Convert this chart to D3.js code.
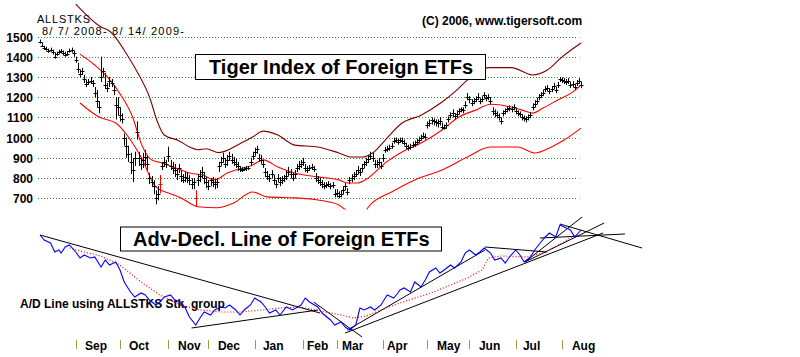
<!DOCTYPE html>
<html><head><meta charset="utf-8">
<script src="https://cdn.jsdelivr.net/npm/d3@7"></script>
<style>body{margin:0;background:#fff}svg{display:block}text{font-family:"Liberation Sans",Arial,sans-serif}</style>
</head><body><svg id="c" width="800" height="357"></svg>
<script>
// ---------- DATA ----------
const closes=[1475,1455,1445,1440,1430,1435,1425,1400,1415,1425,
1428,1420,1410,1415,1430,1432,1418,1385,1340,1315,
1330,1290,1265,1275,1280,1270,1220,1180,1150,1300,
1330,1260,1245,1280,1270,1235,1160,1150,1110,1090,
1000,960,920,880,840,900,1030,900,870,890,
905,870,800,780,760,700,720,770,860,880,
870,910,860,850,840,820,850,810,790,805,
800,790,770,780,700,790,810,830,800,780,
760,790,780,770,780,860,880,900,870,890,
910,890,880,870,860,845,840,845,850,850,
880,910,930,945,900,890,870,830,810,800,
820,790,770,800,780,790,800,810,830,820,
800,820,850,860,870,880,850,840,850,855,
845,800,790,780,770,760,765,770,760,765,
720,725,710,720,740,760,730,790,800,810,
820,840,830,850,870,880,895,910,900,870,
870,880,860,900,940,945,950,960,985,990,
980,990,985,975,960,950,955,965,970,980,
990,1000,1010,1005,1060,1070,1085,1080,1075,1070,
1080,1055,1050,1060,1090,1110,1120,1105,1115,1130,
1140,1135,1160,1200,1190,1170,1180,1190,1200,1180,
1190,1210,1195,1200,1180,1130,1120,1110,1100,1080,
1120,1130,1140,1145,1140,1150,1130,1120,1115,1100,
1095,1090,1100,1110,1150,1165,1180,1200,1210,1220,
1240,1245,1230,1240,1255,1235,1260,1290,1285,1280,
1275,1280,1260,1265,1250,1270,1280,1260];
const highs=[1485,1470,1455,1450,1440,1445,1435,1420,1425,1435,
1438,1430,1425,1428,1440,1445,1430,1400,1370,1335,
1345,1310,1285,1290,1300,1285,1250,1235,1180,1400,
1345,1320,1270,1300,1290,1260,1200,1200,1150,1120,
1020,1000,960,925,900,930,1080,930,900,925,
940,910,825,810,790,740,760,815,880,905,
890,955,890,880,870,850,870,840,820,830,
830,815,800,800,740,820,840,855,830,805,
790,800,805,795,800,880,905,925,900,915,
930,920,905,895,880,860,855,855,860,860,
900,930,950,960,920,915,890,850,835,820,
840,815,790,820,805,810,815,835,855,845,
825,840,870,885,890,900,870,860,865,870,
860,825,810,800,790,780,780,785,775,780,
745,745,735,740,760,775,750,805,820,830,
840,860,850,870,885,900,915,930,925,890,
890,900,880,920,955,960,965,975,1000,1000,
995,1000,1000,990,975,965,970,980,985,995,
1005,1015,1025,1020,1080,1090,1100,1095,1090,1090,
1100,1075,1065,1075,1105,1125,1140,1120,1135,1145,
1150,1150,1180,1220,1205,1190,1195,1205,1220,1195,
1205,1225,1210,1215,1200,1150,1140,1130,1120,1100,
1135,1145,1155,1160,1155,1165,1145,1135,1130,1115,
1110,1105,1115,1125,1170,1185,1195,1215,1225,1235,
1255,1260,1245,1255,1270,1250,1275,1300,1298,1295,
1290,1295,1275,1280,1265,1285,1295,1275];
const lows=[1465,1448,1435,1430,1420,1425,1410,1390,1405,1415,
1418,1408,1400,1405,1420,1420,1400,1370,1320,1300,
1310,1270,1250,1260,1265,1250,1200,1150,1120,1275,
1300,1240,1225,1250,1250,1210,1090,1110,1080,1070,
960,900,880,820,780,860,990,860,840,850,
860,840,770,755,720,670,690,725,840,855,
850,880,840,820,805,790,825,780,775,780,
775,765,745,745,660,760,780,800,770,750,
740,760,755,745,750,830,860,875,850,860,
885,870,860,850,835,830,830,835,835,840,
860,890,910,920,880,870,850,805,790,780,
800,770,750,780,760,770,780,790,810,800,
785,800,830,840,850,860,830,825,835,840,
830,780,770,760,750,745,750,755,745,750,
705,705,700,705,720,740,715,770,780,790,
805,820,810,830,850,860,875,890,880,850,
850,860,845,880,925,930,935,945,970,975,
965,975,970,960,945,935,940,950,955,965,
975,985,995,990,1045,1055,1065,1060,1055,1050,
1060,1040,1040,1045,1075,1095,1100,1090,1100,1115,
1125,1120,1145,1185,1170,1155,1165,1175,1185,1165,
1175,1195,1180,1185,1165,1110,1100,1095,1085,1065,
1105,1115,1125,1130,1125,1135,1115,1105,1100,1085,
1080,1075,1085,1095,1135,1150,1165,1185,1195,1205,
1225,1230,1215,1225,1240,1220,1245,1275,1270,1265,
1260,1265,1245,1250,1235,1255,1265,1245];
const redBars=[57,74];
const priceTicks=[700,800,900,1000,1100,1200,1300,1400,1500];

// bands: [trading day, value]
const upperBand=[[17,1660],[29,1547],[33,1527],[42,1399],[47,1310],[52,1201],[56,1072],[59,1013],[66,985],[71,954],[75,940],[79,945],[85,926],[95,970],[101,1003],[106,1032],[113,1013],[121,963],[132,954],[142,924],[148,904],[153,904],[158,924],[164,988],[172,1072],[181,1111],[191,1176],[198,1235],[203,1284],[213,1346],[224,1346],[234,1310],[241,1334],[248,1399],[257,1468]];
const midBand=[[19,1413],[26,1359],[32,1300],[39,1201],[44,1102],[48,973],[53,890],[58,875],[63,855],[67,840],[71,825],[77,816],[83,791],[89,825],[101,865],[106,890],[113,855],[121,825],[132,806],[142,791],[146,776],[151,776],[156,801],[164,875],[172,929],[181,973],[191,1038],[199,1102],[207,1136],[214,1165],[224,1151],[229,1136],[234,1121],[239,1146],[246,1186],[253,1225],[257,1260]];
const lowBand=[[19,1171],[28,1102],[36,1072],[42,1003],[48,904],[55,756],[61,726],[67,702],[75,658],[84,653],[92,677],[101,731],[108,707],[121,702],[132,692],[142,667],[144,652],[150,615],[154,625],[156,657],[167,731],[178,791],[191,840],[203,904],[214,954],[227,954],[235,924],[243,954],[249,988],[257,1047]];

// A/D line
const adDays=[0,2,5,7,9,10,12,14,17,19,21,24,26,29,31,33,36,38,40,43,45,48,50,52,55,57,59,62,64,67,69,71,74,76,78,81,83,86,88,90,93,95,97,100,102,105,107,109,112,114,117,120,124,126,128,132,134,138,140,143,145,147,150,152,154,157,159,162,164,165,168,170,171,173,176,178,181,183,185,188,190,192,195,197,200,202,204,207,209,211,214,216,219,221,223,226,228,230,233,235,238,240,242,245,247,249,252,254,257];
const adVals=[105,100,97,88,90,87,93,95,88,82,85,82,83,73,80,75,78,70,58,48,43,47,45,40,35,38,43,45,40,38,32,23,15,22,28,25,30,33,32,35,30,25,30,35,42,38,33,27,30,25,33,30,35,42,38,33,27,20,15,18,13,10,15,32,30,33,30,35,42,45,42,47,50,52,48,58,53,60,68,72,67,70,75,72,78,87,90,85,88,92,87,80,82,77,83,90,85,78,83,90,98,103,107,103,115,113,110,103,110];
const adAvgDays=[14,21,29,38,48,57,67,76,86,95,105,114,124,133,143,149,155,162,171,187,203,210,213,219,231,239,248,254];
const adAvgVals=[92,88,84,75,58,45,35,30,28,28,30,32,33,29,25,22,24,30,37,48,62,70,82,84,83,87,97,105];
// trendlines: [day1,val1,day2,val2]
const adTrends=[[0,105,133,27],[72,12,132,30],[130,38,153,3],[145,7,267.5,107],[146,10,211.4,90],[211.4,93,240.9,88],[230.4,78,257.5,123],[230.4,78,268,117],[237.5,102,277.9,106],[247,116,286,92]];

const monthNames=["Sep","Oct","Nov","Dec","Jan","Feb","Mar","Apr","May","Jun","Jul","Aug"];
const monthTickDays=[17,38,61,80,102,125,141,163,184,204,226,248];
const monthLabelDays=[21.4,42.3,65.6,84.5,105.9,126.8,143.5,164.8,188.6,208.5,229.4,252.7];

// ---------- DRAW ----------
const svg=d3.select("#c");
const x=d3.scaleLinear().domain([0,257]).range([40,581]);
const y=d3.scaleLinear().domain([700,1500]).range([198.3,36.5]);
const ya=d3.scaleLinear().domain([0,110]).range([340,230]);

// grid
const g=svg.append("g");
priceTicks.forEach(t=>{
  const gy=Math.round(y(t))+0.5;
  g.append("line").attr("x1",38).attr("x2",577).attr("y1",gy).attr("y2",gy)
   .attr("stroke","#2e8b2e").attr("stroke-dasharray","1,2");
  g.append("line").attr("x1",579).attr("x2",580).attr("y1",gy).attr("y2",gy).attr("stroke","#bbb");
  g.append("text").attr("x",33).attr("y",y(t)+5).attr("text-anchor","end")
   .attr("font-size",12).attr("font-weight","bold").text(t);
});

// texts
svg.append("text").attr("x",37).attr("y",23).attr("font-size",11).attr("textLength",53).attr("lengthAdjust","spacing").text("ALLSTKS");
svg.append("text").attr("x",42).attr("y",35).attr("font-size",11).attr("textLength",142).attr("lengthAdjust","spacing").text("8/ 7/ 2008- 8/ 14/ 2009-");
svg.append("text").attr("x",422).attr("y",25).attr("font-size",12).attr("font-weight","bold").text("(C) 2006, www.tigersoft.com");

// bands
const clip=svg.append("clipPath").attr("id","pc");
clip.append("rect").attr("x",0).attr("y",3).attr("width",800).attr("height",206.5);
const bl=d3.line().x(d=>x(d[0])).y(d=>y(d[1])).curve(d3.curveMonotoneX);
const bg=svg.append("g").attr("clip-path","url(#pc)").attr("fill","none");
bg.append("path").attr("d",bl(upperBand)).attr("stroke","#800000").attr("stroke-width",1.1);
bg.append("path").attr("d",bl(midBand)).attr("stroke","#ff0000").attr("stroke-width",1.1);
bg.append("path").attr("d",bl(lowBand)).attr("stroke","#ff0000").attr("stroke-width",1.1);

// title box 1
svg.append("rect").attr("x",195.5).attr("y",54.5).attr("width",290).attr("height",25).attr("fill","#fff").attr("stroke","#000");
svg.append("text").attr("x",209).attr("y",73.5).attr("font-size",20).attr("font-weight","bold").text("Tiger Index of Foreign ETFs");

// bars
const bars=svg.append("g");
closes.forEach((c,i)=>{
  const col=redBars.includes(i)?"#ff0000":"#000";
  const xx=Math.round(x(i))+0.5;
  bars.append("line").attr("x1",xx).attr("x2",xx).attr("y1",y(highs[i])).attr("y2",y(lows[i])).attr("stroke",col).attr("stroke-width",1);
  bars.append("line").attr("x1",xx-2).attr("x2",xx+2).attr("y1",Math.round(y(c))+0.5).attr("y2",Math.round(y(c))+0.5).attr("stroke",col).attr("stroke-width",1);
});

// A/D panel
svg.append("rect").attr("x",120.5).attr("y",227).attr("width",321).attr("height",24).attr("fill","#fff").attr("stroke","#000");
svg.append("text").attr("x",133).attr("y",245.5).attr("font-size",20).attr("font-weight","bold").text("Adv-Decl. Line of Foreign ETFs");
svg.append("text").attr("x",20).attr("y",308.3).attr("font-size",12).attr("font-weight","bold").text("A/D Line using ALLSTKS Stk. group");

const al=d3.line().x(d=>x(d[0])).y(d=>ya(d[1]));
const tg=svg.append("g").attr("stroke","#000").attr("fill","none");
adTrends.forEach(t=>{
  tg.append("line").attr("x1",x(t[0])).attr("y1",ya(t[1])).attr("x2",x(t[2])).attr("y2",ya(t[3])).attr("stroke-width",1);
});
svg.append("path").attr("d",al(adAvgDays.map((d,i)=>[d,adAvgVals[i]]))).attr("fill","none").attr("stroke","#ff0000").attr("stroke-dasharray","1,2").attr("stroke-width",1.2);
svg.append("path").attr("d",al(adDays.map((d,i)=>[d,adVals[i]]))).attr("fill","none").attr("stroke","#0000ff").attr("stroke-width",1.1);

// month axis
monthNames.forEach((m,i)=>{
  const tx=Math.round(x(monthTickDays[i]))+0.5;
  svg.append("line").attr("x1",tx).attr("x2",tx).attr("y1",340).attr("y2",349).attr("stroke","#a09a3c");
  svg.append("text").attr("x",x(monthLabelDays[i])).attr("y",350).attr("font-size",12).attr("font-weight","bold").text(m);
});
</script></body></html>
